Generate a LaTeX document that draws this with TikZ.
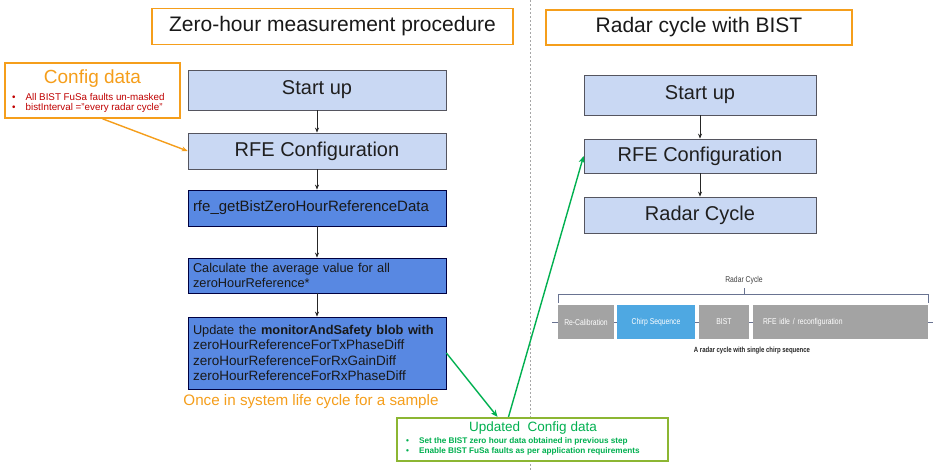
\documentclass[tikz,border=0pt]{standalone}
\usepackage{fontspec}
\setmainfont{Liberation Sans}
\newfontfamily\narrowfont[FakeStretch=0.8]{Liberation Sans}
\usetikzlibrary{arrows.meta,calc}
\definecolor{lightbox}{RGB}{201,216,243}
\definecolor{darkbox}{RGB}{88,136,226}
\definecolor{boxedge}{RGB}{85,85,95}
\definecolor{orng}{RGB}{245,158,27}
\definecolor{grn}{RGB}{0,176,80}
\definecolor{olive}{RGB}{140,182,50}
\definecolor{cfgred}{RGB}{192,0,0}
\definecolor{segray}{RGB}{163,163,163}
\definecolor{chirp}{RGB}{78,168,226}
\definecolor{brk}{RGB}{105,115,145}
\tikzset{
  titlebox/.style={draw=orng, line width=1.6pt, fill=white, font=\fontsize{21}{24}\selectfont, text=black!90},
  lbox/.style={draw=boxedge, line width=0.8pt, fill=lightbox, minimum width=258pt, font=\fontsize{20}{23}\selectfont, text=black!88},
  rbox/.style={draw=boxedge, line width=0.8pt, fill=lightbox, minimum width=232pt, font=\fontsize{20}{23}\selectfont, text=black!88},
  dbox/.style={draw=black!75!blue, line width=0.8pt, fill=darkbox, text width=248pt, inner xsep=5pt, align=left, font=\fontsize{13.5}{15.5}\selectfont, text=black!90},
  flow/.style={draw=black!85, line width=0.7pt, -{Stealth[length=5pt,width=4pt]}},
  seg/.style={fill=segray, minimum height=34pt, text=white, font=\narrowfont\fontsize{8.5}{10}\selectfont, inner sep=0pt},
  grnarrow/.style={draw=grn, line width=1.4pt, -{Stealth[length=7pt,width=6pt]}},
  cfgitem/.style={anchor=west, text=cfgred, font=\fontsize{9.8}{12}\selectfont, inner sep=0pt},
  upditem/.style={anchor=west, text=grn, font=\bfseries\fontsize{8.2}{10}\selectfont, inner sep=0pt},
}
\begin{document}
\begin{tikzpicture}[x=1pt,y=-1pt]
\useasboundingbox (0,0) rectangle (948,471);
\fill[white] (0,0) rectangle (948,471);

% divider
\draw[gray!70, line width=1pt, dash pattern=on 2pt off 2pt] (530,0) -- (530,471);

% titles
\node[titlebox, minimum width=361pt, minimum height=36pt] (t1) at (332.5,26.5) {Zero-hour measurement procedure};
\node[titlebox, minimum width=306pt, minimum height=35pt] (t2) at (699,27.5) {Radar cycle with BIST};

% config data
\node[draw=orng, line width=1.6pt, fill=white, minimum width=175pt, minimum height=55pt] (cfg) at (92.5,90.5) {};
\node[text=orng, font=\fontsize{19}{22}\selectfont] (cfgt) at (92.5,79) {Config data};
\node[cfgitem] (cb1) at (12,97) {\textbullet\hspace{10pt}All BIST FuSa faults un-masked};
\node[cfgitem] (cb2) at (12,107.5) {\textbullet\hspace{10pt}bistInterval ="every radar cycle"};

% left flow
\node[lbox, minimum height=40pt] (lsu) at (317,90) {Start up};
\node[lbox, minimum height=36pt] (lrfe) at (317,151) {RFE Configuration};
\node[dbox, minimum height=36pt, font=\fontsize{15}{17}\selectfont] (lget) at (317,208) {rfe\_getBistZeroHourReferenceData};
\node[dbox, minimum height=35pt, font=\fontsize{12.8}{15.5}\selectfont] (lcalc) at (317,275.5) {Calculate the average value for all\\zeroHourReference*};
\node[dbox, minimum height=72pt] (lupd) at (317,353) {{\fontsize{12.8}{15.5}\selectfont Update the \textbf{monitorAndSafety blob with}}\\zeroHourReferenceForTxPhaseDiff\\zeroHourReferenceForRxGainDiff\\zeroHourReferenceForRxPhaseDiff};
\node[text=orng, font=\fontsize{15.2}{17}\selectfont] (once) at (311,402) {Once in system life cycle for a sample};

\draw[flow] (lsu) -- (lrfe);
\draw[flow] (lrfe) -- (lget);
\draw[flow] (lget) -- (lcalc);
\draw[flow] (lcalc) -- (lupd);

\draw[draw=orng, line width=1.4pt, -{Stealth[length=6pt,width=5pt]}] ([xshift=10pt]cfg.south) -- (lrfe.west);

% right flow
\node[rbox, minimum height=40pt] (rsu) at (700,95) {Start up};
\node[rbox, minimum height=34pt] (rrfe) at (700,156) {RFE Configuration};
\node[rbox, minimum height=36pt] (rrc) at (700,215) {Radar Cycle};
\draw[flow] (rsu) -- (rrfe);
\draw[flow] (rrfe) -- (rrc);

% radar cycle timeline
\node[text=black!75, font=\narrowfont\fontsize{8.5}{10}\selectfont] (rclab) at (744,280) {Radar Cycle};
\coordinate (tl0) at (552,322);
\coordinate (tl1) at (933,322);
\draw[brk, line width=0.8pt] (tl0) -- (tl1);
\draw[brk, line width=0.8pt] (558,303) -- (558,294) -- (928,294) -- (928,303);
\draw[brk, line width=0.8pt] (744,294) -- (744,288);
\node[seg, minimum width=56pt] (s1) at (586,322) {Re-Calibration};
\node[seg, minimum width=78pt, fill=chirp] (s2) at (656,322) {Chirp Sequence};
\node[seg, minimum width=50pt] (s3) at (724,322) {BIST};
\node[seg, minimum width=175pt, text width=155pt, align=left] (s4) at (840.5,322) {RFE idle / reconfiguration};
\node[text=black!85, font=\narrowfont\bfseries\fontsize{7.5}{9}\selectfont] (cap) at (752,351) {A radar cycle with single chirp sequence};

% updated config data
\node[draw=olive, line width=2.2pt, fill=white, minimum width=271pt, minimum height=43pt] (ucfg) at (532.5,439.5) {};
\node[text=grn, font=\fontsize{13.5}{16}\selectfont] (ucfgt) at (533,428) {Updated\ \ Config data};
\node[upditem] (ub1) at (406,441) {\textbullet\hspace{10pt}Set the BIST zero hour data obtained in previous step};
\node[upditem] (ub2) at (406,451) {\textbullet\hspace{10pt}Enable BIST FuSa faults as per application requirements};

\draw[grnarrow] (lupd.east) -- ([xshift=-35pt]ucfg.north);
\draw[grnarrow] ([xshift=-24pt]ucfg.north) -- (rrfe.west);
\end{tikzpicture}
\end{document}
